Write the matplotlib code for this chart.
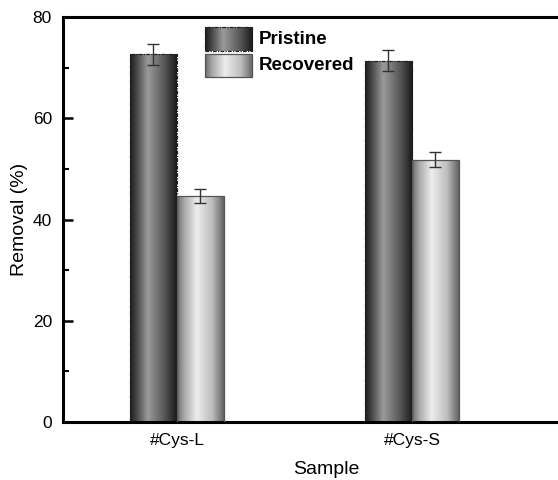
import numpy as np
import matplotlib
matplotlib.use("Agg")
import matplotlib.pyplot as plt
from matplotlib.colors import LinearSegmentedColormap
from matplotlib.patches import Rectangle

plt.rcParams['font.family'] = ['Liberation Sans', 'DejaVu Sans']

# Removal data
samples = ['#Cys-L', '#Cys-S']
pristine = [72.6, 71.4]
pristine_err = [2.1, 2.1]
recovered = [44.6, 51.8]
recovered_err = [1.35, 1.5]

# cylinder-like shading for the bars
cmap_dark = LinearSegmentedColormap.from_list(
    'dark', [(0, '#1c1c1c'), (0.12, '#404040'), (0.38, '#9a9a9a'),
             (0.72, '#5a5a5a'), (1, '#181818')])
cmap_light = LinearSegmentedColormap.from_list(
    'light', [(0, '#6a6a6a'), (0.15, '#a8a8a8'), (0.42, '#ededed'),
              (0.75, '#bdbdbd'), (1, '#626262')])
grad = np.linspace(0, 1, 256).reshape(1, -1)

fig = plt.figure(figsize=(5.58, 4.80), dpi=100)
ax = fig.add_axes([63 / 558, 58 / 480, 527 / 558, 405 / 480])

x = np.arange(1, len(samples) + 1)
w = 0.2


def shaded_bars(xpos, vals, cmap, edge, ls):
    bars = ax.bar(xpos, vals, w, facecolor='none', edgecolor=edge,
                  linewidth=0.9, linestyle=ls, zorder=3)
    for b in bars:
        x0, y0 = b.get_x(), b.get_y()
        im = ax.imshow(grad, cmap=cmap, aspect='auto', zorder=2,
                       extent=[x0, x0 + b.get_width(), y0, y0 + b.get_height()])
        im.set_clip_path(b)
    return bars


shaded_bars(x - w / 2, pristine, cmap_dark, '#202020', (0, (3, 1, 1, 1)))
shaded_bars(x + w / 2, recovered, cmap_light, '#555555', '-')

ax.errorbar(x - w / 2, pristine, yerr=pristine_err, fmt='none',
            ecolor='#333333', elinewidth=1, capsize=4, capthick=1, zorder=4)
ax.errorbar(x + w / 2, recovered, yerr=recovered_err, fmt='none',
            ecolor='#333333', elinewidth=1, capsize=4, capthick=1, zorder=4)

ax.set_xlim(0.515, 0.515 + 527 / 235)
ax.set_ylim(0, 80)
ax.set_xticks(x)
ax.set_xticklabels(samples)
ax.set_yticks([0, 20, 40, 60, 80])
ax.set_yticks([10, 30, 50, 70], minor=True)

ax.tick_params(axis='y', which='major', direction='in', length=7, width=1.8,
               labelsize=12.5, pad=8)
ax.tick_params(axis='y', which='minor', direction='in', length=4, width=1.5)
ax.tick_params(axis='x', length=0, labelsize=12.5, pad=8)
for s in ax.spines.values():
    s.set_linewidth(2.2)

ax.set_xlabel('Sample', fontsize=14, labelpad=9)
ax.set_ylabel('Removal (%)', fontsize=14, labelpad=3)

# legend swatches
items = [('Pristine', cmap_dark, '#202020', (0, (3, 1, 1, 1)), 0.916, 0.975),
         ('Recovered', cmap_light, '#555555', '-', 0.852, 0.909)]
lx0, lx1 = 0.2694, 0.3586
for label, cm, ec, ls, y0, y1 in items:
    r = Rectangle((lx0, y0), lx1 - lx0, y1 - y0, transform=ax.transAxes,
                  facecolor='none', edgecolor=ec, linewidth=0.9,
                  linestyle=ls, zorder=6)
    ax.add_patch(r)
    im = ax.imshow(grad, cmap=cm, aspect='auto', zorder=5,
                   extent=[lx0, lx1, y0, y1], transform=ax.transAxes)
    im.set_clip_path(r)
    ax.text(0.372, (y0 + y1) / 2, label, transform=ax.transAxes,
            fontsize=13.5, fontweight='bold', va='center', ha='left')

fig.savefig('out.png', dpi=100)
